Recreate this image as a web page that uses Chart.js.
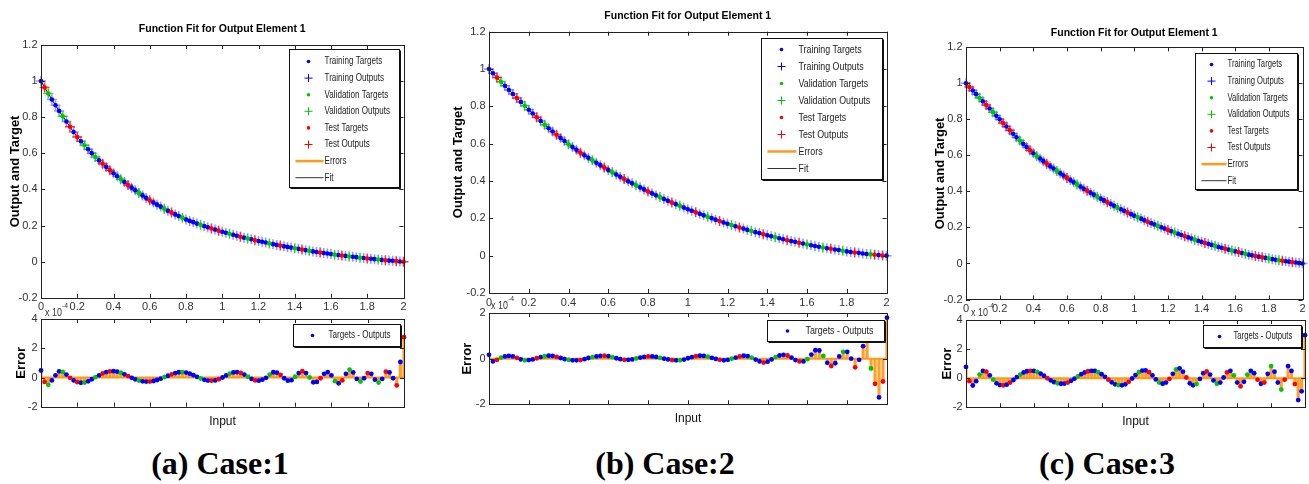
<!DOCTYPE html>
<html>
<head>
<meta charset="UTF-8">
<script src="https://cdn.jsdelivr.net/npm/chart.js"></script>
<style>
  body { margin:0; background:#fff; width:1309px; height:484px; position:relative; overflow:hidden; }
  canvas { position:absolute; }
  .cap { position:absolute; top:463px; transform:translate(-50%,-50%); font-family:'Liberation Serif','Times New Roman',serif; font-weight:bold; font-size:32px; color:#000; white-space:nowrap; }
  .exp { position:absolute; font-family:'Liberation Sans',Arial,sans-serif; font-size:10.5px; color:#333; white-space:nowrap; line-height:13px; transform:scaleX(0.85); transform-origin:left center; }
  .exp sup { font-size:8px; position:relative; top:-3px; }
</style>
</head>
<body>
<canvas id="mainA"></canvas>
<canvas id="errA"></canvas>
<canvas id="mainB"></canvas>
<canvas id="errB"></canvas>
<canvas id="mainC"></canvas>
<canvas id="errC"></canvas>

<div class="exp" style="left:45px;top:302px">x 10<sup>-4</sup></div>
<div class="exp" style="left:491px;top:295px">x 10<sup>-4</sup></div>
<div class="exp" style="left:971px;top:302px">x 10<sup>-4</sup></div>

<div class="cap" style="left:220px">(a) Case:1</div>
<div class="cap" style="left:665px">(b) Case:2</div>
<div class="cap" style="left:1107px">(c) Case:3</div>

<script>
// input values (x 10^-4)
const inputs = [
  0, 0.02, 0.04, 0.06, 0.08, 0.1, 0.12, 0.14, 0.16, 0.18,
  0.2, 0.22, 0.24, 0.26, 0.28, 0.3, 0.32, 0.34, 0.36, 0.38,
  0.4, 0.42, 0.44, 0.46, 0.48, 0.5, 0.52, 0.54, 0.56, 0.58,
  0.6, 0.62, 0.64, 0.66, 0.68, 0.7, 0.72, 0.74, 0.76, 0.78,
  0.8, 0.82, 0.84, 0.86, 0.88, 0.9, 0.92, 0.94, 0.96, 0.98,
  1, 1.02, 1.04, 1.06, 1.08, 1.1, 1.12, 1.14, 1.16, 1.18,
  1.2, 1.22, 1.24, 1.26, 1.28, 1.3, 1.32, 1.34, 1.36, 1.38,
  1.4, 1.42, 1.44, 1.46, 1.48, 1.5, 1.52, 1.54, 1.56, 1.58,
  1.6, 1.62, 1.64, 1.66, 1.68, 1.7, 1.72, 1.74, 1.76, 1.78,
  1.8, 1.82, 1.84, 1.86, 1.88, 1.9, 1.92, 1.94, 1.96, 1.98,
  2
];

// output and target, per case
const fitA = [
  1.000, 0.965, 0.931, 0.898, 0.866, 0.835, 0.805, 0.776, 0.747, 0.718,
  0.690, 0.667, 0.645, 0.623, 0.601, 0.580, 0.561, 0.543, 0.525, 0.507,
  0.490, 0.473, 0.457, 0.441, 0.425, 0.410, 0.396, 0.381, 0.367, 0.353,
  0.340, 0.328, 0.316, 0.305, 0.293, 0.282, 0.272, 0.262, 0.253, 0.243,
  0.234, 0.226, 0.219, 0.211, 0.204, 0.197, 0.191, 0.184, 0.178, 0.172,
  0.166, 0.160, 0.155, 0.149, 0.144, 0.138, 0.133, 0.128, 0.124, 0.119,
  0.114, 0.110, 0.106, 0.101, 0.097, 0.093, 0.089, 0.085, 0.082, 0.078,
  0.074, 0.071, 0.067, 0.064, 0.060, 0.057, 0.054, 0.051, 0.048, 0.045,
  0.042, 0.039, 0.037, 0.034, 0.032, 0.029, 0.027, 0.025, 0.022, 0.020,
  0.018, 0.016, 0.014, 0.012, 0.010, 0.008, 0.006, 0.005, 0.003, 0.001,
  0.000
];
const fitB = [
  1.000, 0.977, 0.954, 0.932, 0.910, 0.888, 0.866, 0.845, 0.824, 0.803,
  0.782, 0.762, 0.742, 0.722, 0.702, 0.683, 0.665, 0.648, 0.631, 0.614,
  0.597, 0.582, 0.567, 0.552, 0.538, 0.524, 0.511, 0.498, 0.485, 0.472,
  0.459, 0.447, 0.435, 0.423, 0.411, 0.399, 0.388, 0.377, 0.366, 0.355,
  0.344, 0.334, 0.324, 0.314, 0.304, 0.294, 0.285, 0.276, 0.267, 0.258,
  0.249, 0.241, 0.232, 0.224, 0.216, 0.208, 0.201, 0.193, 0.186, 0.178,
  0.171, 0.164, 0.158, 0.151, 0.145, 0.138, 0.132, 0.126, 0.121, 0.115,
  0.109, 0.104, 0.099, 0.093, 0.088, 0.083, 0.078, 0.074, 0.069, 0.065,
  0.060, 0.056, 0.052, 0.048, 0.044, 0.040, 0.037, 0.033, 0.030, 0.026,
  0.023, 0.020, 0.017, 0.015, 0.012, 0.009, 0.007, 0.005, 0.003, 0.001,
  0.000
];
const fitC = [
  1.000, 0.980, 0.960, 0.940, 0.920, 0.900, 0.880, 0.860, 0.840, 0.820,
  0.800, 0.780, 0.760, 0.740, 0.720, 0.700, 0.682, 0.664, 0.647, 0.629,
  0.612, 0.597, 0.583, 0.568, 0.554, 0.540, 0.527, 0.514, 0.501, 0.488,
  0.475, 0.463, 0.451, 0.439, 0.427, 0.415, 0.404, 0.393, 0.382, 0.371,
  0.360, 0.350, 0.340, 0.330, 0.320, 0.310, 0.301, 0.292, 0.283, 0.274,
  0.265, 0.257, 0.249, 0.240, 0.232, 0.224, 0.216, 0.209, 0.201, 0.194,
  0.186, 0.179, 0.172, 0.165, 0.158, 0.151, 0.145, 0.139, 0.132, 0.126,
  0.120, 0.114, 0.109, 0.103, 0.098, 0.092, 0.087, 0.082, 0.077, 0.072,
  0.067, 0.063, 0.058, 0.054, 0.049, 0.045, 0.041, 0.038, 0.034, 0.031,
  0.027, 0.024, 0.021, 0.018, 0.015, 0.012, 0.010, 0.007, 0.005, 0.002,
  0.000
];

// targets - outputs, per case
const errA = [
  0.48, -0.3, -0.5, -0.2, 0.15, 0.42, 0.38, 0.2, -0.02, -0.2,
  -0.32, -0.36, -0.35, -0.26, -0.12, 0.02, 0.15, 0.28, 0.37, 0.42,
  0.43, 0.4, 0.33, 0.22, 0.1, -0.02, -0.13, -0.21, -0.26, -0.28,
  -0.28, -0.24, -0.17, -0.08, 0.02, 0.12, 0.22, 0.3, 0.36, 0.37,
  0.34, 0.26, 0.16, 0.04, -0.07, -0.16, -0.21, -0.22, -0.2, -0.12,
  0.0, 0.14, 0.27, 0.35, 0.37, 0.32, 0.2, 0.05, -0.1, -0.2,
  -0.22, -0.15, -0.02, 0.2, 0.36, 0.33, 0.18, -0.05, -0.22, -0.18,
  0.05, 0.3, 0.43, 0.3, 0.0, -0.33, -0.3, -0.05, 0.25, 0.37,
  0.15, -0.25, -0.4, -0.2, 0.25, 0.54, 0.35, -0.1, -0.28, -0.05,
  0.3, 0.25, -0.15, -0.35, -0.1, 0.4, 0.35, -0.05, -0.54, 1.06,
  2.76
];
const errB = [
  0.17, -0.12, -0.05, 0.05, 0.1, 0.12, 0.1, 0.04, -0.03, -0.07,
  -0.06, -0.03, 0.02, 0.07, 0.11, 0.13, 0.12, 0.08, 0.03, -0.02,
  -0.05, -0.07, -0.07, -0.06, -0.02, 0.03, 0.07, 0.1, 0.12, 0.13,
  0.11, 0.07, 0.02, -0.02, -0.05, -0.05, -0.03, 0.01, 0.05, 0.08,
  0.1, 0.1, 0.08, 0.04, 0.0, -0.03, -0.06, -0.07, -0.07, -0.04,
  0.02, 0.07, 0.11, 0.13, 0.12, 0.09, 0.04, -0.01, -0.05, -0.07,
  -0.05, 0.0, 0.05, 0.1, 0.13, 0.11, 0.05, -0.04, -0.12, -0.17,
  -0.13, -0.03, 0.07, 0.14, 0.17, 0.14, 0.05, -0.06, -0.12, -0.12,
  -0.02, 0.18, 0.37, 0.36, 0.12, -0.18, -0.32, -0.2, 0.1, 0.3,
  0.3, 0.0, -0.38, -0.05, 0.55, 0.8, -0.43, -1.1, -1.7, -1.0,
  1.8
];
const errC = [
  0.78, -0.2, -0.5, -0.2, 0.25, 0.5, 0.45, 0.2, -0.1, -0.35,
  -0.47, -0.49, -0.44, -0.3, -0.12, 0.08, 0.25, 0.4, 0.48, 0.51,
  0.5, 0.44, 0.32, 0.17, 0.0, -0.15, -0.27, -0.35, -0.38, -0.37,
  -0.3, -0.18, -0.03, 0.13, 0.28, 0.4, 0.48, 0.51, 0.5, 0.42,
  0.28, 0.1, -0.1, -0.28, -0.42, -0.48, -0.49, -0.42, -0.25, -0.02,
  0.22, 0.42, 0.53, 0.54, 0.42, 0.2, -0.08, -0.3, -0.38, -0.3,
  -0.05, 0.3, 0.6, 0.68, 0.45, 0.05, -0.35, -0.49, -0.4, -0.05,
  0.35, 0.47, 0.25, -0.15, -0.38, -0.3, 0.05, 0.4, 0.51, 0.2,
  -0.3, -0.56, -0.25, 0.25, 0.51, 0.35, -0.1, -0.38, -0.3, 0.3,
  0.84, 0.45, -0.3, -0.78, -0.1, 0.84, 0.5, -0.4, -1.5, -0.9,
  2.96
];

// which samples went to validation / test (index into inputs)
const valA = [2, 6, 12, 15, 22, 27, 34, 39, 44, 52, 57, 63, 70, 74, 81, 85, 88, 93];
const testA = [1, 8, 10, 17, 19, 24, 30, 36, 47, 49, 55, 59, 66, 72, 77, 83, 90, 95, 98, 100];
const valB = [3, 9, 14, 20, 26, 31, 37, 43, 48, 55, 61, 66, 72, 80, 84, 89, 96];
const testB = [2, 7, 12, 17, 23, 29, 34, 40, 46, 52, 58, 63, 69, 75, 78, 86, 92, 97, 99];
const valC = [4, 8, 16, 21, 27, 33, 39, 45, 51, 57, 62, 68, 74, 79, 83, 90, 93];
const testC = [1, 6, 11, 13, 19, 24, 30, 36, 42, 48, 54, 60, 65, 71, 77, 81, 86, 88, 94, 97];

const xTicks = [0, 0.2, 0.4, 0.6, 0.8, 1, 1.2, 1.4, 1.6, 1.8, 2];
const fitYTicks = [-0.2, 0, 0.2, 0.4, 0.6, 0.8, 1, 1.2];
const errYTicksA = [-2, 0, 2, 4];
const errYTicksB = [-2, 0, 2];
const errYTicksC = [-2, 0, 2, 4];

const BLUE = "#0000ff", GREEN = "#00c800", RED = "#ff0000", ORANGE = "#ff9a1a";
const SANS = "'Liberation Sans',Arial,sans-serif";

function pts(vals, idx) {
  return idx.map((i) => ({ x: inputs[i], y: vals[i] }));
}
function trainIdx(val, test) {
  return inputs.map((_, i) => i).filter((i) => !val.includes(i) && !test.includes(i));
}
const fmt = (v) => String(Math.round(v * 10) / 10);

// axes box with inward ticks on all four sides, like matlab
const boxFrame = {
  id: "boxFrame",
  beforeDatasetsDraw(chart, args, o) {
    if (!o || !o.zeroLine) return;
    const { ctx, chartArea: a, scales } = chart;
    const py = scales.y.getPixelForValue(0);
    ctx.save();
    ctx.strokeStyle = ORANGE;
    ctx.lineWidth = 2;
    ctx.beginPath();
    ctx.moveTo(a.left, py);
    ctx.lineTo(a.right, py);
    ctx.stroke();
    ctx.restore();
  },
  afterDatasetsDraw(chart) {
    const { ctx, chartArea: a, scales } = chart;
    const x = scales.x, y = scales.y;
    ctx.save();
    ctx.strokeStyle = "#222";
    ctx.lineWidth = 1;
    ctx.strokeRect(Math.round(a.left) + 0.5, Math.round(a.top) + 0.5, Math.round(a.right - a.left), Math.round(a.bottom - a.top));
    ctx.beginPath();
    x.ticks.forEach((t) => {
      const p = Math.round(x.getPixelForValue(t.value)) + 0.5;
      ctx.moveTo(p, a.bottom); ctx.lineTo(p, a.bottom - 4);
      ctx.moveTo(p, a.top); ctx.lineTo(p, a.top + 4);
    });
    y.ticks.forEach((t) => {
      const p = Math.round(y.getPixelForValue(t.value)) + 0.5;
      ctx.moveTo(a.left, p); ctx.lineTo(a.left + 4, p);
      ctx.moveTo(a.right, p); ctx.lineTo(a.right - 4, p);
    });
    ctx.stroke();
    ctx.restore();
  },
};

// legend box inside the axes, top right
const boxLegend = {
  id: "boxLegend",
  afterDraw(chart, args, o) {
    if (!o || !o.items) return;
    const { ctx, chartArea: a } = chart;
    const x0 = Math.round(a.right - o.gapRight - o.width) + 0.5;
    const y0 = Math.round(a.top + o.gapTop) + 0.5;
    ctx.save();
    ctx.fillStyle = "#fff";
    ctx.fillRect(x0, y0, o.width, o.height);
    ctx.strokeStyle = "#111";
    ctx.lineWidth = 1;
    ctx.strokeRect(x0, y0, o.width, o.height);
    ctx.fillStyle = "#111";
    ctx.fillRect(x0 + o.width, y0 + 1, 1.5, o.height);
    ctx.fillRect(x0 + 1, y0 + o.height, o.width, 1.5);
    ctx.font = o.fontSize + "px " + SANS;
    ctx.textBaseline = "middle";
    o.items.forEach((it, k) => {
      const y = y0 + o.firstRow + k * (o.rowH || 0);
      const sx = x0 + o.symX;
      if (it.kind === "dot") {
        ctx.fillStyle = it.color;
        ctx.beginPath();
        ctx.arc(sx, y, 1.8, 0, Math.PI * 2);
        ctx.fill();
      } else if (it.kind === "cross") {
        ctx.strokeStyle = it.color;
        ctx.lineWidth = 1;
        ctx.beginPath();
        ctx.moveTo(sx - 4, y); ctx.lineTo(sx + 4, y);
        ctx.moveTo(sx, y - 4); ctx.lineTo(sx, y + 4);
        ctx.stroke();
      } else {
        ctx.strokeStyle = it.color;
        ctx.lineWidth = it.w;
        ctx.beginPath();
        ctx.moveTo(x0 + o.lineX0, y); ctx.lineTo(x0 + o.lineX1, y);
        ctx.stroke();
      }
      // narrow the text a bit, the original uses a condensed face
      ctx.save();
      ctx.translate(x0 + o.textX, y);
      ctx.scale(o.squeeze, 1);
      ctx.fillStyle = "#222";
      ctx.fillText(it.text, 0, 0);
      ctx.restore();
    });
    ctx.restore();
  },
};

const fitItems = [
  { kind: "dot", color: BLUE, text: "Training Targets" },
  { kind: "cross", color: BLUE, text: "Training Outputs" },
  { kind: "dot", color: GREEN, text: "Validation Targets" },
  { kind: "cross", color: GREEN, text: "Validation Outputs" },
  { kind: "dot", color: RED, text: "Test Targets" },
  { kind: "cross", color: RED, text: "Test Outputs" },
  { kind: "line", color: ORANGE, w: 2.5, text: "Errors" },
  { kind: "line", color: "#333", w: 1, text: "Fit" },
];
const errItems = [{ kind: "dot", color: BLUE, text: "Targets - Outputs" }];

function place(id, g) {
  const c = document.getElementById(id);
  c.width = g.width;
  c.height = g.height;
  c.style.left = g.left + "px";
  c.style.top = g.top + "px";
  return c;
}

function tickFont(size) {
  return { family: SANS, size: size };
}

function drawFit(id, fit, val, test, g) {
  const train = trainIdx(val, test);
  new Chart(place(id, g), {
    type: "scatter",
    data: {
      datasets: [
        { type: "line", data: pts(fit, inputs.map((_, i) => i)), showLine: true, borderColor: "#000", borderWidth: 1, pointRadius: 0, order: 9 },
        { data: pts(fit, train), pointStyle: "cross", pointRadius: 5, borderWidth: 1.5, borderColor: "rgba(60,60,255,0.55)", order: 8, clip: false },
        { data: pts(fit, val), pointStyle: "cross", pointRadius: 5, borderWidth: 1.5, borderColor: "rgba(0,200,0,0.8)", order: 7, clip: false },
        { data: pts(fit, test), pointStyle: "cross", pointRadius: 5, borderWidth: 1.5, borderColor: "rgba(255,0,0,0.8)", order: 6, clip: false },
        { data: pts(fit, train), pointRadius: 2.3, borderWidth: 0, backgroundColor: BLUE, order: 3, clip: false },
        { data: pts(fit, val), pointRadius: 2.3, borderWidth: 0, backgroundColor: GREEN, order: 2, clip: false },
        { data: pts(fit, test), pointRadius: 2.3, borderWidth: 0, backgroundColor: RED, order: 1, clip: false },
      ],
    },
    options: {
      responsive: false,
      animation: false,
      devicePixelRatio: 1,
      events: [],
      layout: { padding: { top: 0, left: 0, right: g.padRight, bottom: 0 } },
      plugins: {
        legend: { display: false },
        tooltip: { enabled: false },
        title: {
          display: true,
          fullSize: false,
          text: "Function Fit for Output Element 1",
          color: "#000",
          font: { family: SANS, size: 10.5, weight: "bold", lineHeight: 1.2 },
          padding: g.titlePad,
        },
        boxLegend: Object.assign({ items: fitItems }, g.legend),
      },
      scales: {
        x: {
          type: "linear", min: 0, max: 2, offset: false,
          afterBuildTicks: (s) => { s.ticks = xTicks.map((v) => ({ value: v })); },
          afterFit: (s) => { s.height = g.xAxisH; },
          ticks: { font: tickFont(11), color: "#333", padding: 3, maxRotation: 0, autoSkip: false, callback: fmt },
          grid: { display: false, drawTicks: false },
          border: { display: false },
        },
        y: {
          type: "linear", min: -0.2, max: 1.2,
          afterBuildTicks: (s) => { s.ticks = fitYTicks.map((v) => ({ value: v })); },
          afterFit: (s) => { s.width = g.yAxisW; },
          ticks: { font: tickFont(11), color: "#333", padding: 3.5, autoSkip: false, callback: fmt },
          grid: { display: false, drawTicks: false },
          border: { display: false },
          title: { display: true, text: "Output and Target", color: "#000", font: { family: SANS, size: 13, weight: "bold" }, padding: { top: g.yTitlePad, bottom: 0 } },
        },
      },
    },
    plugins: [boxFrame, boxLegend],
  });
}

function drawErr(id, err, val, test, yTicks, g) {
  const colors = inputs.map((_, i) => (val.includes(i) ? GREEN : test.includes(i) ? RED : BLUE));
  const all = inputs.map((_, i) => i);
  new Chart(place(id, g), {
    type: "scatter",
    data: {
      datasets: [
        { data: pts(err, all), pointRadius: 2.4, borderWidth: 0, backgroundColor: colors, pointBackgroundColor: colors, order: 0, clip: false },
        { type: "bar", data: pts(err, all), backgroundColor: "rgba(255,150,20,0.9)", barThickness: 2.5, grouped: false, order: 1 },
      ],
    },
    options: {
      responsive: false,
      animation: false,
      devicePixelRatio: 1,
      events: [],
      layout: { padding: { top: g.padTop, left: 0, right: g.padRight, bottom: 0 } },
      plugins: {
        legend: { display: false },
        tooltip: { enabled: false },
        boxFrame: { zeroLine: true },
        boxLegend: Object.assign({ items: errItems }, g.legend),
      },
      scales: {
        x: {
          type: "linear", min: 0, max: 2, offset: false,
          afterBuildTicks: (s) => { s.ticks = xTicks.map((v) => ({ value: v })); },
          afterFit: (s) => { s.height = g.xAxisH; },
          ticks: { display: false },
          grid: { display: false, drawTicks: false },
          border: { display: false },
          title: { display: true, text: "Input", color: "#111", font: { family: SANS, size: 12 }, padding: { top: 0, bottom: g.inputPad } },
        },
        y: {
          type: "linear", min: yTicks[0], max: yTicks[yTicks.length - 1],
          afterBuildTicks: (s) => { s.ticks = yTicks.map((v) => ({ value: v })); },
          afterFit: (s) => { s.width = g.yAxisW; },
          ticks: { font: tickFont(11), color: "#333", padding: 3.5, autoSkip: false, callback: fmt },
          grid: { display: false, drawTicks: false },
          border: { display: false },
          title: { display: true, text: "Error", color: "#000", font: { family: SANS, size: 13, weight: "bold" }, padding: { top: g.yTitlePad, bottom: 0 } },
        },
      },
    },
    plugins: [boxFrame, boxLegend],
  });
}

drawFit("mainA", fitA, valA, testA, {
  left: 0, top: 0, width: 410, height: 316, yAxisW: 41, padRight: 6, xAxisH: 18.2,
  titlePad: { top: 22.7, bottom: 9.7 }, yTitlePad: 7.2,
  legend: { gapRight: 5, gapTop: 4, width: 110, height: 138, symX: 19, textX: 35, lineX0: 6, lineX1: 34, firstRow: 12, rowH: 16.6, fontSize: 10.5, squeeze: 0.77 },
});
drawErr("errA", errA, valA, testA, errYTicksA, {
  left: 0, top: 309, width: 410, height: 123, padTop: 7.7, yAxisW: 41, padRight: 6, xAxisH: 25.3, inputPad: 3.1, yTitlePad: 13.2,
  legend: { gapRight: 4, gapTop: 5.3, width: 107, height: 22, symX: 19, textX: 35, firstRow: 11, fontSize: 10.5, squeeze: 0.77 },
});

drawFit("mainB", fitB, valB, testB, {
  left: 444, top: 0, width: 449, height: 311, yAxisW: 45, padRight: 6, xAxisH: 18,
  titlePad: { top: 9.4, bottom: 9.7 }, yTitlePad: 6.2,
  legend: { gapRight: 4.3, gapTop: 6.3, width: 121, height: 141, symX: 20, textX: 37, lineX0: 6, lineX1: 35, firstRow: 11, rowH: 17, fontSize: 11.5, squeeze: 0.77 },
});
drawErr("errB", errB, valB, testB, errYTicksB, {
  left: 444, top: 303, width: 449, height: 129, padTop: 7.7, yAxisW: 45, padRight: 6, xAxisH: 27.7, inputPad: 6.5, yTitlePad: 15.2,
  legend: { gapRight: 3, gapTop: 7.3, width: 117, height: 21, symX: 20, textX: 38, firstRow: 10.5, fontSize: 11.5, squeeze: 0.77 },
});

drawFit("mainC", fitC, valC, testC, {
  left: 925, top: 0, width: 384, height: 318, yAxisW: 41, padRight: 4, xAxisH: 18.5,
  titlePad: { top: 26.7, bottom: 8.0 }, yTitlePad: 7.7,
  legend: { gapRight: 6, gapTop: 5.7, width: 102, height: 136, symX: 16, textX: 32, lineX0: 6, lineX1: 31, firstRow: 11, rowH: 16.6, fontSize: 10.5, squeeze: 0.73 },
});
drawErr("errC", errC, valC, testC, errYTicksC, {
  left: 925, top: 310, width: 384, height: 122, padTop: 8.3, yAxisW: 41, padRight: 4, xAxisH: 24.7, inputPad: 3.1, yTitlePad: 14.2,
  legend: { gapRight: 4, gapTop: 4.7, width: 98, height: 22, symX: 16, textX: 30, firstRow: 11, fontSize: 10.5, squeeze: 0.73 },
});
</script>
</body>
</html>
